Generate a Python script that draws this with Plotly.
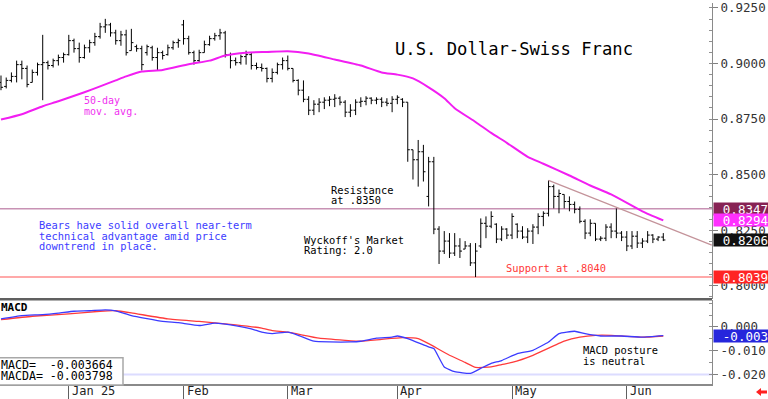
import plotly.graph_objects as go

# ---------------- data ----------------
open_ = [0.8915, 0.8897, 0.8924, 0.8942, 0.8995, 0.8978, 0.8915, 0.8960, 0.8995, 0.9004,
         0.8991, 0.9013, 0.9027, 0.9040, 0.9103, 0.9067, 0.9027, 0.9071, 0.9094, 0.9121,
         0.9165, 0.9174, 0.9138, 0.9103, 0.9129, 0.9058, 0.9076, 0.9067, 0.9049, 0.9071,
         0.9027, 0.9049, 0.9040, 0.9071, 0.9094, 0.9174, 0.9112, 0.9049, 0.9013, 0.9049,
         0.9085, 0.9112, 0.9125, 0.9138, 0.9040, 0.9013, 0.9004, 0.9031, 0.9040, 0.8991,
         0.8982, 0.8978, 0.8933, 0.8960, 0.8995, 0.9013, 0.8978, 0.8924, 0.8880, 0.8839,
         0.8790, 0.8817, 0.8826, 0.8835, 0.8839, 0.8844, 0.8826, 0.8781, 0.8790, 0.8826,
         0.8830, 0.8844, 0.8835, 0.8839, 0.8826, 0.8821, 0.8839, 0.8839, 0.8826, 0.8612,
         0.8567, 0.8603, 0.8402, 0.8558, 0.8255, 0.8156, 0.8201, 0.8147, 0.8179, 0.8165,
         0.8179, 0.8103, 0.8179, 0.8281, 0.8268, 0.8277, 0.8210, 0.8255, 0.8228, 0.8277,
         0.8246, 0.8219, 0.8246, 0.8264, 0.8312, 0.8326, 0.8446, 0.8402, 0.8411, 0.8379,
         0.8366, 0.8344, 0.8290, 0.8237, 0.8281, 0.8210, 0.8214, 0.8264, 0.8246, 0.8237,
         0.8219, 0.8179, 0.8223, 0.8192, 0.8201, 0.8228, 0.8210, 0.8219]
high = [0.8946, 0.8937, 0.8960, 0.9013, 0.9013, 0.8991, 0.8973, 0.9004, 0.9129, 0.9013,
        0.9022, 0.9040, 0.9049, 0.9129, 0.9112, 0.9094, 0.9085, 0.9107, 0.9138, 0.9183,
        0.9201, 0.9183, 0.9152, 0.9147, 0.9152, 0.9156, 0.9085, 0.9080, 0.9085, 0.9080,
        0.9071, 0.9058, 0.9085, 0.9103, 0.9112, 0.9196, 0.9125, 0.9058, 0.9062, 0.9103,
        0.9125, 0.9138, 0.9156, 0.9147, 0.9049, 0.9027, 0.9040, 0.9058, 0.9049, 0.9004,
        0.9000, 0.8982, 0.8978, 0.9004, 0.9027, 0.9036, 0.8978, 0.8929, 0.8924, 0.8853,
        0.8835, 0.8844, 0.8848, 0.8853, 0.8862, 0.8853, 0.8835, 0.8817, 0.8839, 0.8848,
        0.8853, 0.8848, 0.8848, 0.8848, 0.8844, 0.8853, 0.8857, 0.8844, 0.8826, 0.8612,
        0.8656, 0.8634, 0.8580, 0.8580, 0.8268, 0.8246, 0.8237, 0.8237, 0.8214, 0.8201,
        0.8192, 0.8192, 0.8303, 0.8312, 0.8335, 0.8281, 0.8268, 0.8259, 0.8326, 0.8281,
        0.8268, 0.8259, 0.8277, 0.8326, 0.8335, 0.8474, 0.8455, 0.8433, 0.8411, 0.8402,
        0.8379, 0.8357, 0.8299, 0.8299, 0.8281, 0.8223, 0.8277, 0.8281, 0.8348, 0.8246,
        0.8246, 0.8246, 0.8246, 0.8214, 0.8246, 0.8232, 0.8223, 0.8237]
low = [0.8880, 0.8888, 0.8915, 0.8915, 0.8929, 0.8893, 0.8915, 0.8946, 0.8835, 0.8973,
       0.8982, 0.8991, 0.9004, 0.9036, 0.9049, 0.9004, 0.9022, 0.9049, 0.9080, 0.9112,
       0.9138, 0.9121, 0.9085, 0.9080, 0.9036, 0.9058, 0.9053, 0.8969, 0.9036, 0.9013,
       0.8969, 0.9018, 0.9036, 0.9062, 0.9071, 0.9085, 0.9040, 0.8995, 0.9004, 0.9049,
       0.9080, 0.9103, 0.9107, 0.9027, 0.8978, 0.8991, 0.8995, 0.8995, 0.8973, 0.8973,
       0.8964, 0.8915, 0.8915, 0.8951, 0.8973, 0.8969, 0.8915, 0.8857, 0.8826, 0.8768,
       0.8768, 0.8781, 0.8795, 0.8808, 0.8804, 0.8812, 0.8759, 0.8759, 0.8768, 0.8804,
       0.8812, 0.8817, 0.8817, 0.8804, 0.8808, 0.8781, 0.8817, 0.8804, 0.8558, 0.8478,
       0.8446, 0.8469, 0.8357, 0.8232, 0.8098, 0.8143, 0.8125, 0.8134, 0.8125, 0.8165,
       0.8089, 0.8039, 0.8170, 0.8214, 0.8259, 0.8192, 0.8201, 0.8210, 0.8210, 0.8214,
       0.8210, 0.8192, 0.8188, 0.8232, 0.8268, 0.8312, 0.8348, 0.8326, 0.8348, 0.8335,
       0.8326, 0.8281, 0.8210, 0.8223, 0.8201, 0.8201, 0.8201, 0.8214, 0.8214, 0.8201,
       0.8156, 0.8165, 0.8170, 0.8170, 0.8192, 0.8192, 0.8201, 0.8201]
close = [0.8893, 0.8924, 0.8942, 0.8995, 0.8978, 0.8906, 0.8960, 0.8995, 0.9004, 0.8991,
         0.9013, 0.9027, 0.9040, 0.9103, 0.9067, 0.9027, 0.9071, 0.9094, 0.9121, 0.9165,
         0.9174, 0.9138, 0.9103, 0.9129, 0.9049, 0.9094, 0.9067, 0.8995, 0.9076, 0.9027,
         0.9049, 0.9036, 0.9071, 0.9094, 0.9103, 0.9112, 0.9049, 0.9013, 0.9049, 0.9085,
         0.9112, 0.9125, 0.9138, 0.9040, 0.9013, 0.9004, 0.9031, 0.9040, 0.8991, 0.8982,
         0.8978, 0.8933, 0.8960, 0.8995, 0.9013, 0.8978, 0.8924, 0.8880, 0.8839, 0.8790,
         0.8817, 0.8826, 0.8835, 0.8839, 0.8844, 0.8826, 0.8781, 0.8790, 0.8826, 0.8830,
         0.8844, 0.8835, 0.8839, 0.8826, 0.8821, 0.8839, 0.8848, 0.8826, 0.8612, 0.8567,
         0.8603, 0.8513, 0.8558, 0.8255, 0.8156, 0.8201, 0.8147, 0.8179, 0.8156, 0.8179,
         0.8103, 0.8156, 0.8281, 0.8268, 0.8312, 0.8210, 0.8255, 0.8228, 0.8312, 0.8246,
         0.8219, 0.8246, 0.8264, 0.8312, 0.8326, 0.8446, 0.8402, 0.8415, 0.8379, 0.8366,
         0.8344, 0.8290, 0.8237, 0.8281, 0.8210, 0.8214, 0.8264, 0.8246, 0.8237, 0.8219,
         0.8179, 0.8223, 0.8192, 0.8201, 0.8228, 0.8210, 0.8219, 0.8206]
bar_idx = list(range(len(close)))

ma_idx = [0, 4, 8, 11, 16, 19, 22, 24, 27, 31, 36, 40, 43, 47, 51, 55, 59, 64, 69, 73,
          76, 79, 82, 85, 87, 91, 94, 97, 101, 104, 109, 113, 117, 123, 127]
ma_val = [0.8748, 0.8772, 0.8808, 0.8830, 0.8871, 0.8897, 0.8924, 0.8942, 0.8964, 0.8971,
          0.8997, 0.9013, 0.9036, 0.9049, 0.9052, 0.9055, 0.9045, 0.9018, 0.8991, 0.8960,
          0.8950, 0.8933, 0.8893, 0.8844, 0.8799, 0.8737, 0.8688, 0.8643, 0.8580, 0.8549,
          0.8496, 0.8451, 0.8411, 0.8335, 0.8294]

macd_idx = [0, 4, 8, 11, 14, 17, 20, 22, 25, 31, 34, 38, 41, 44, 48, 50, 52, 55, 57, 60,
            63, 67, 69, 72, 75, 76, 78, 82, 83, 85, 87, 90, 92, 94, 96, 99, 102, 105, 107, 110,
            112, 115, 119, 123, 127]
macd_val = [0.0034, 0.0048, 0.0052, 0.0058, 0.0066, 0.0068, 0.0072, 0.0068, 0.0048, 0.0023,
            0.0018, 0.0006, 0.0016, 0.0009, -0.0008, -0.0022, -0.0028, -0.0022, -0.0035, -0.0060,
            -0.0063, -0.0063, -0.0060, -0.0047, -0.0043, -0.0038, -0.0049, -0.0084, -0.0091, -0.0168,
            -0.0188, -0.0195, -0.0174, -0.0153, -0.0141, -0.0112, -0.0098, -0.0063, -0.0028, -0.0018,
            -0.0028, -0.0038, -0.0038, -0.0043, -0.003664]
sig_idx = [0, 6, 13, 19, 22, 25, 32, 38, 45, 50, 52, 55, 61, 66, 69, 73, 77, 80, 82, 86,
           89, 91, 94, 96, 98, 102, 108, 111, 114, 117, 123, 127]
sig_val = [0.0031, 0.0045, 0.0055, 0.0066, 0.0068, 0.0059, 0.0034, 0.0023, 0.0009, -0.0005,
           -0.0015, -0.0022, -0.0047, -0.0056, -0.0060, -0.0052, -0.0045, -0.0049, -0.0070, -0.0119,
           -0.0149, -0.0170, -0.0168, -0.0158, -0.0149, -0.0119, -0.0060, -0.0043, -0.0035, -0.0035,
           -0.0043, -0.003798]

month_idx = [13, 35, 55, 76, 98, 120]
month_lbl = ["Jan 25", "Feb", "Mar", "Apr", "May", "Jun"]

price_ticks = [0.8000, 0.8250, 0.8500, 0.8750, 0.9000, 0.9250]
price_tick_lbl = ["0.8000", "0.8250", "0.8500", "0.8750", "0.9000", "0.9250"]
macd_ticks = [0.0, -0.010, -0.020]
macd_tick_lbl = ["0.000", "-0.010", "-0.020"]

resistance = 0.8347
support = 0.8039
ma_last = 0.8294
last_close = 0.8206
trend_idx = [105, 136.3]
trend_val = [0.8474, 0.8183]
macd_last = -0.003664
macda_last = -0.003798
macd_box_lbl = "-0.003"

# ---------------- layout helpers ----------------
W, H = 712, 384          # plot area in px
MONO = "DejaVu Sans Mono"


def px(x):
    return x / W


def py(y):
    return (H - y) / H


fig = go.Figure()

fig.add_trace(go.Ohlc(x=bar_idx, open=open_, high=high, low=low, close=close,
                      increasing=dict(line=dict(color="black", width=1)),
                      decreasing=dict(line=dict(color="black", width=1)),
                      tickwidth=0.4, hoverinfo="skip", xaxis="x", yaxis="y"))
fig.add_trace(go.Scatter(x=ma_idx, y=ma_val, mode="lines",
                         line=dict(color="#F21EF2", width=2, shape="spline", smoothing=0.5),
                         hoverinfo="skip", xaxis="x", yaxis="y"))
fig.add_trace(go.Scatter(x=trend_idx, y=trend_val, mode="lines",
                         line=dict(color="#C4939A", width=1.2), hoverinfo="skip",
                         xaxis="x", yaxis="y"))
fig.add_trace(go.Scatter(x=sig_idx, y=sig_val, mode="lines",
                         line=dict(color="#FF3B3B", width=1.3, shape="spline", smoothing=0.4),
                         hoverinfo="skip", xaxis="x", yaxis="y2"))
fig.add_trace(go.Scatter(x=macd_idx, y=macd_val, mode="lines",
                         line=dict(color="#3B3BFF", width=1.3, shape="spline", smoothing=0.4),
                         hoverinfo="skip", xaxis="x", yaxis="y2"))

shapes = []
shapes.append(dict(type="line", xref="paper", yref="y", x0=0, x1=1, y0=resistance, y1=resistance,
                   line=dict(color="#C892B4", width=1.5), layer="below"))
shapes.append(dict(type="line", xref="paper", yref="y", x0=0, x1=1, y0=support, y1=support,
                   line=dict(color="#FF8C8C", width=1.5), layer="below"))
shapes.append(dict(type="line", xref="paper", yref="y2", x0=px(123), x1=1, y0=-0.020, y1=-0.020,
                   line=dict(color="#DCDCFF", width=2), layer="below"))
shapes.append(dict(type="line", xref="paper", yref="paper", x0=0, x1=1, y0=py(298.5), y1=py(298.5),
                   line=dict(color="#606060", width=2.5)))
shapes.append(dict(type="rect", xref="paper", yref="paper", x0=px(-2), x1=px(123),
                   y0=py(385), y1=py(357.5), fillcolor="white",
                   line=dict(color="#A8A8A8", width=1.5), layer="above"))
path = (f"M {px(756)} {py(392)} L {px(761)} {py(388)} L {px(761)} {py(390.5)} "
        f"L {px(767)} {py(390.5)} L {px(767)} {py(393.5)} L {px(761)} {py(393.5)} "
        f"L {px(761)} {py(396)} Z")
shapes.append(dict(type="path", xref="paper", yref="paper", path=path,
                   fillcolor="#FF2020", line=dict(color="#FF2020", width=0)))

ann = []


def txt(x, y, s, color="black", size=10.4):
    ann.append(dict(xref="paper", yref="paper", x=px(x), y=py(y), text=s, showarrow=False,
                    xanchor="left", yanchor="middle",
                    font=dict(family=MONO, size=size, color=color)))


txt(393, 46, "U.S. Dollar-Swiss Franc", size=17.2)
txt(82, 98.5, "50-day", color="#F030F0", size=10)
txt(82, 109.5, "mov. avg.", color="#F030F0", size=10)
txt(37, 224, "Bears have solid overall near-term", color="#3C3CFF")
txt(37, 234.8, "technical advantage amid price", color="#3C3CFF")
txt(37, 245.4, "downtrend in place.", color="#3C3CFF")
txt(329, 188.5, "Resistance")
txt(329, 199, "at .8350")
txt(302, 238.5, "Wyckoff's Market")
txt(302, 249, "Rating: 2.0")
txt(504, 267.5, "Support at .8040", color="#FF3838")
txt(581, 350, "MACD posture")
txt(581, 360.5, "is neutral")
txt(-1, 306.5, "<b>MACD</b>", size=11)
txt(-1, 365, "MACD=  %.6f" % macd_last, size=11.6)
txt(-1, 375.7, "MACDA= %.6f" % macda_last, size=11.6)

for i, lbl in zip(month_idx, month_lbl):
    ann.append(dict(xref="x", yref="paper", x=i, y=py(391.5), text=lbl, showarrow=False,
                    xanchor="left", yanchor="middle", xshift=1,
                    font=dict(family=MONO, size=12, color="#222")))


def box(val, yref, label, bg):
    ann.append(dict(xref="paper", yref=yref, x=px(713), y=val, text=label, showarrow=False,
                    xanchor="left", yanchor="middle", bgcolor=bg, width=53, height=10,
                    borderpad=1, align="right",
                    font=dict(family=MONO, size=12.5, color="white")))


box(resistance, "y", "%.4f" % resistance, "#872254")
box(ma_last, "y", "%.4f" % ma_last, "#FF30FF")
box(last_close, "y", "%.4f" % last_close, "#111111")
box(support, "y", "%.4f" % support, "#FF2424")
box(macd_last, "y2", macd_box_lbl, "#2626DC")

axis_font = dict(family=MONO, size=12.5, color="#333")

fig.update_layout(
    width=768, height=399,
    margin=dict(l=0, r=56, t=0, b=15),
    paper_bgcolor="white", plot_bgcolor="white",
    showlegend=False,
    xaxis=dict(domain=[0, 1], anchor="y2", range=[-0.19, 136.34],
               rangeslider=dict(visible=False),
               tickvals=month_idx, showticklabels=False, ticks="outside", ticklen=13,
               tickcolor="#606060", showline=True, linecolor="#8A8A8A", linewidth=1.5,
               showgrid=False, zeroline=False, fixedrange=True),
    yaxis=dict(domain=[86 / 384, 1], anchor="x", side="right",
               range=[0.79419, 0.92723],
               tickvals=price_ticks, ticktext=price_tick_lbl, ticks="outside", ticklen=5,
               tickcolor="#808080", showline=True, linecolor="#8A8A8A", linewidth=1,
               showgrid=False, zeroline=False, tickfont=axis_font,
               ticklabeloverflow="allow",
               minor=dict(ticks="inside", ticklen=3, dtick=0.005, tickcolor="#909090",
                          showgrid=False),
               fixedrange=True),
    yaxis2=dict(domain=[0, 85 / 384], anchor="x", side="right",
                range=[-0.02396, 0.01146],
                tickvals=macd_ticks, ticktext=macd_tick_lbl, ticks="outside", ticklen=5,
                tickcolor="#808080", showline=True, linecolor="#8A8A8A", linewidth=1,
                showgrid=False, zeroline=False, tickfont=axis_font,
                ticklabeloverflow="allow",
                minor=dict(ticks="inside", ticklen=3, dtick=0.005, tickcolor="#909090",
                           showgrid=False),
                fixedrange=True),
    shapes=shapes,
    annotations=ann,
)

fig.write_html("out.html", config={"displayModeBar": False},
               post_script="document.body.style.margin='0';document.body.style.overflow='hidden';")
